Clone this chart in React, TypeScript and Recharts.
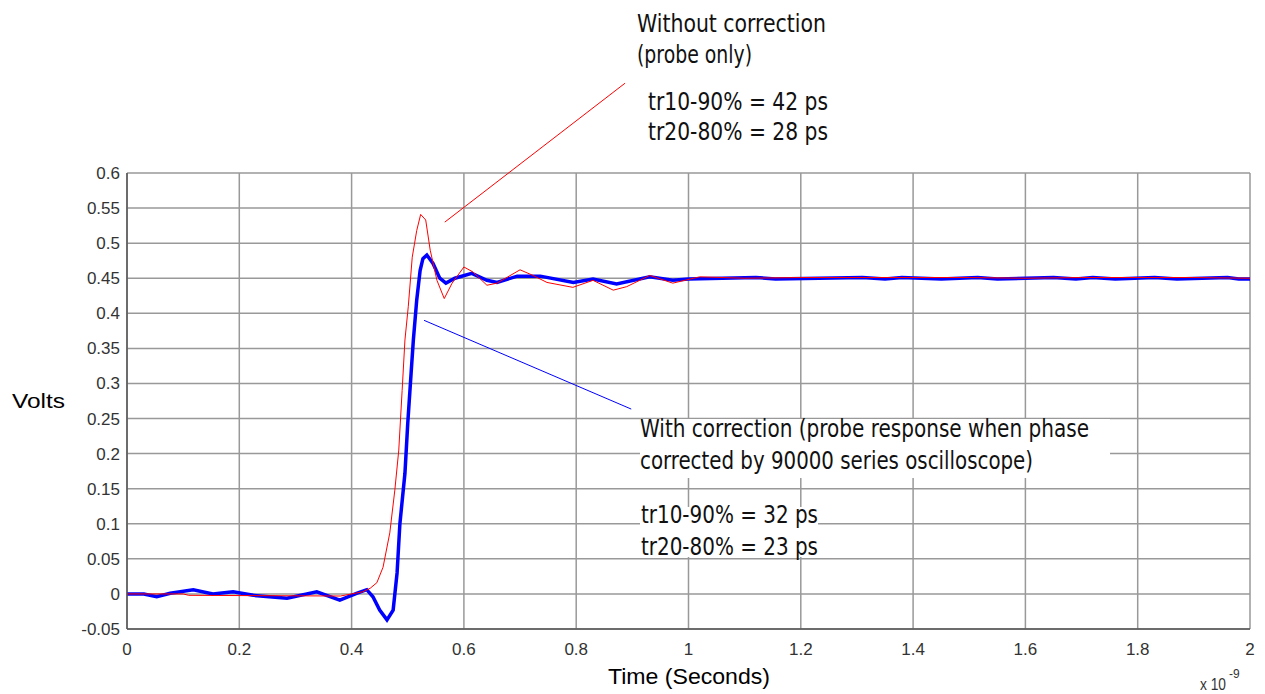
import { LineChart, Line, XAxis, YAxis, CartesianGrid, ReferenceLine } from 'recharts'

// time in ns, amplitude in volts
const redTime = [
  0, 0.1, 0.11, 0.38, 0.42, 0.433, 0.445, 0.456, 0.468, 0.477, 0.484, 0.49, 0.495, 0.501, 0.508,
  0.516, 0.523, 0.532, 0.54, 0.552, 0.565, 0.579, 0.6, 0.616, 0.641, 0.659, 0.7, 0.723, 0.748,
  0.794, 0.83, 0.866, 0.89, 0.931, 0.972, 1.02, 1.1, 1.2, 1.3, 1.4, 1.5, 1.6, 1.7, 1.8, 1.9, 2,
]
const redVolts = [
  0, 0, -0.002, -0.003, 0.003, 0.008, 0.016, 0.038, 0.087, 0.148, 0.205, 0.29, 0.362, 0.41, 0.48,
  0.518, 0.541, 0.533, 0.49, 0.447, 0.421, 0.443, 0.466, 0.459, 0.44, 0.443, 0.462, 0.454, 0.444,
  0.437, 0.447, 0.433, 0.438, 0.454, 0.443, 0.452, 0.45, 0.451, 0.451, 0.451, 0.451, 0.45, 0.451,
  0.451, 0.451, 0.45,
]

const blueTime = [
  0, 0.03, 0.053, 0.077, 0.118, 0.153, 0.189, 0.225, 0.285, 0.338, 0.379, 0.41, 0.427, 0.438, 0.45,
  0.463, 0.474, 0.481, 0.486, 0.495, 0.5, 0.506, 0.51, 0.516, 0.522, 0.527, 0.534, 0.545, 0.557,
  0.568, 0.584, 0.614, 0.641, 0.659, 0.695, 0.736, 0.795, 0.83, 0.872, 0.931, 0.972, 1.0, 1.12,
  1.155, 1.31, 1.35, 1.38, 1.45, 1.515, 1.55, 1.65, 1.69, 1.72, 1.76, 1.83, 1.87, 1.96, 1.98, 2,
]
const blueVolts = [
  0, 0, -0.004, 0.001, 0.006, 0, 0.003, -0.002, -0.006, 0.003, -0.009, 0.001, 0.006, -0.004, -0.023,
  -0.037, -0.023, 0.03, 0.1, 0.172, 0.243, 0.315, 0.362, 0.419, 0.461, 0.478, 0.483, 0.471, 0.45,
  0.443, 0.45, 0.457, 0.447, 0.444, 0.453, 0.453, 0.444, 0.449, 0.442, 0.452, 0.447, 0.449, 0.451,
  0.449, 0.451, 0.449, 0.451, 0.449, 0.451, 0.449, 0.451, 0.449, 0.451, 0.449, 0.451, 0.449, 0.451,
  0.449, 0.449,
]

const xTicks = [0, 0.2, 0.4, 0.6, 0.8, 1, 1.2, 1.4, 1.6, 1.8, 2]
const yTicks = [-0.05, 0, 0.05, 0.1, 0.15, 0.2, 0.25, 0.3, 0.35, 0.4, 0.45, 0.5, 0.55, 0.6]

const redData = redTime.map((t, i) => ({ t, v: redVolts[i] }))
const blueData = blueTime.map((t, i) => ({ t, v: blueVolts[i] }))

const fmt = (v: number) => String(Number(v.toFixed(2)))

const tickStyle = { fill: '#333', fontSize: 17, fontFamily: '"Liberation Sans", Arial, sans-serif' }
const noteFont = '"DejaVu Sans Condensed", "Roboto", sans-serif'

export default function App() {
  return (
    <div style={{ position: 'relative', width: 1265, height: 694, background: '#fff' }}>
      <style>{'body{margin:0}'}</style>
      <LineChart width={1265} height={694} margin={{ top: 173, right: 15, bottom: 0, left: 0 }}>
        <CartesianGrid stroke="#999" strokeWidth={1.5} horizontalValues={yTicks} verticalValues={xTicks} />
        <XAxis
          type="number"
          dataKey="t"
          domain={[0, 2]}
          ticks={xTicks}
          tickFormatter={fmt}
          height={65}
          tickLine={false}
          tickSize={6}
          tickMargin={8}
          axisLine={{ stroke: '#555', strokeWidth: 1.5 }}
          tick={tickStyle}
          allowDataOverflow
        />
        <YAxis
          type="number"
          domain={[-0.05, 0.6]}
          ticks={yTicks}
          tickFormatter={fmt}
          width={127}
          tickLine={false}
          tickSize={6}
          tickMargin={1}
          axisLine={{ stroke: '#555', strokeWidth: 1.5 }}
          tick={tickStyle}
          allowDataOverflow
        />
        <Line data={blueData} dataKey="v" type="linear" stroke="#0000ff" strokeWidth={3.5} dot={false} isAnimationActive={false} />
        <Line data={redData} dataKey="v" type="linear" stroke="#ff0000" strokeWidth={1} dot={false} isAnimationActive={false} />
        <ReferenceLine
          segment={[{ x: 0.566, y: 0.53 }, { x: 0.887, y: 0.728 }]}
          stroke="#ff0000"
          strokeWidth={1}
          ifOverflow="visible"
        />
        <ReferenceLine
          segment={[{ x: 0.529, y: 0.39 }, { x: 0.898, y: 0.2635 }]}
          stroke="#0000ff"
          strokeWidth={1}
          ifOverflow="visible"
        />
      </LineChart>
      <svg width={1265} height={694} style={{ position: 'absolute', left: 0, top: 0, pointerEvents: 'none' }}>
        <g fontFamily={noteFont} fontSize={25} fill="#111">
          <text x={637} y={32} textLength={189} lengthAdjust="spacingAndGlyphs">Without correction</text>
          <text x={637} y={63} textLength={115} lengthAdjust="spacingAndGlyphs">(probe only)</text>
          <text x={648} y={110} textLength={180} lengthAdjust="spacingAndGlyphs">tr10-90% = 42 ps</text>
          <text x={648} y={140} textLength={180} lengthAdjust="spacingAndGlyphs">tr20-80% = 28 ps</text>
          <rect x={640} y={419} width={470} height={59} fill="#fff" />
          <text x={640} y={437} textLength={449} lengthAdjust="spacingAndGlyphs">With correction (probe response when phase</text>
          <text x={640} y={469} textLength={393} lengthAdjust="spacingAndGlyphs">corrected by 90000 series oscilloscope)</text>
          <rect x={640} y={507} width={178} height={50} fill="#fff" />
          <text x={641} y={523} textLength={177} lengthAdjust="spacingAndGlyphs">tr10-90% = 32 ps</text>
          <text x={641} y={555} textLength={177} lengthAdjust="spacingAndGlyphs">tr20-80% = 23 ps</text>
        </g>
        <g fontFamily='"Liberation Sans", Arial, sans-serif' fill="#000">
          <text x={12} y={408} fontSize={21} textLength={53} lengthAdjust="spacingAndGlyphs">Volts</text>
          <text x={608} y={684} fontSize={22} textLength={162} lengthAdjust="spacingAndGlyphs">Time (Seconds)</text>
          <text x={1200} y={690} fontSize={16} fill="#333" textLength={26} lengthAdjust="spacingAndGlyphs">x 10</text>
          <text x={1229} y={678} fontSize={12} fill="#333">-9</text>
        </g>
      </svg>
    </div>
  )
}
